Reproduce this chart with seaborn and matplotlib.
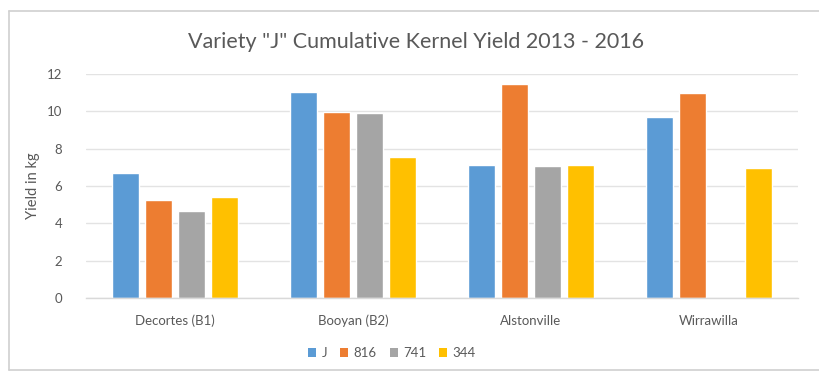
import numpy as np
import pandas as pd
import matplotlib
matplotlib.use("Agg")
import matplotlib.pyplot as plt
from matplotlib.lines import Line2D
from matplotlib.patches import Patch
import seaborn as sns

# Cumulative kernel yield (kg) per site and variety
sites = ["Decortes (B1)", "Booyan (B2)", "Alstonville", "Wirrawilla"]
varieties = ["J", "816", "741", "344"]
yield_J = [6.7, 11.05, 7.1, 9.7]
yield_816 = [5.25, 9.95, 11.45, 11.0]
yield_741 = [4.65, 9.9, 7.05, np.nan]
yield_344 = [5.4, 7.55, 7.15, 6.95]
y_ticks = [0, 2, 4, 6, 8, 10, 12]

colors = ["#5B9BD5", "#ED7D31", "#A5A5A5", "#FFC000"]
text_color = "#595959"

records = []
for var, vals in zip(varieties, [yield_J, yield_816, yield_741, yield_344]):
    for site, v in zip(sites, vals):
        records.append({"Site": site, "Variety": var, "Yield": v})
df = pd.DataFrame(records)

sns.set_theme(style="white")
plt.rcParams["font.family"] = ["Lato", "DejaVu Sans"]

fig = plt.figure(figsize=(8.19, 3.72), dpi=100)
ax = fig.add_axes([86 / 819, 1 - 298 / 372, 712 / 819, 224 / 372])

sns.barplot(data=df, x="Site", y="Yield", hue="Variety", order=sites,
            hue_order=varieties, palette=colors, width=0.74, gap=0.18,
            ax=ax, legend=False, saturation=1)

ax.set_ylim(0, 12)
ax.set_yticks(y_ticks)
ax.set_yticklabels([str(t) for t in y_ticks])
ax.set_xlim(-0.5, len(sites) - 0.5)
ax.set_axisbelow(True)
ax.yaxis.grid(True, color="#e3e3e3", linewidth=1)
for side in ["top", "right", "left"]:
    ax.spines[side].set_visible(False)
ax.spines["bottom"].set_color("#d9d9d9")
ax.spines["bottom"].set_linewidth(1)
ax.tick_params(axis="both", length=0, colors=text_color, labelsize=9.5)
ax.tick_params(axis="x", pad=12)
ax.tick_params(axis="y", pad=17)
ax.set_xlabel("")
ax.set_ylabel("Yield in kg", color=text_color, fontsize=10.5, labelpad=5)

fig.text(0.508, 1 - 42 / 372, 'Variety "J" Cumulative Kernel Yield 2013 - 2016',
         ha="center", va="center", fontsize=15.5, color=text_color)

handles = [Patch(facecolor=c, edgecolor="none") for c in colors]
fig.legend(handles, varieties, loc="center", bbox_to_anchor=(392 / 819, 1 - 353 / 372),
           ncol=4, frameon=False, fontsize=9.5, handlelength=0.6, handleheight=0.6,
           handletextpad=0.4, columnspacing=1.0, labelcolor=text_color)

# chart frame
for (x0, y0, x1, y1) in [(8.5 / 819, 1 - 10.5 / 372, 1.0, 1 - 10.5 / 372),
                         (8.5 / 819, 1 - 10.5 / 372, 8.5 / 819, 1 - 370 / 372),
                         (8.5 / 819, 1 - 370 / 372, 1.0, 1 - 370 / 372)]:
    fig.add_artist(Line2D([x0, x1], [y0, y1], color="#d0d0d0", linewidth=1.2,
                          transform=fig.transFigure))

fig.savefig("out.png", dpi=100, facecolor="white")
